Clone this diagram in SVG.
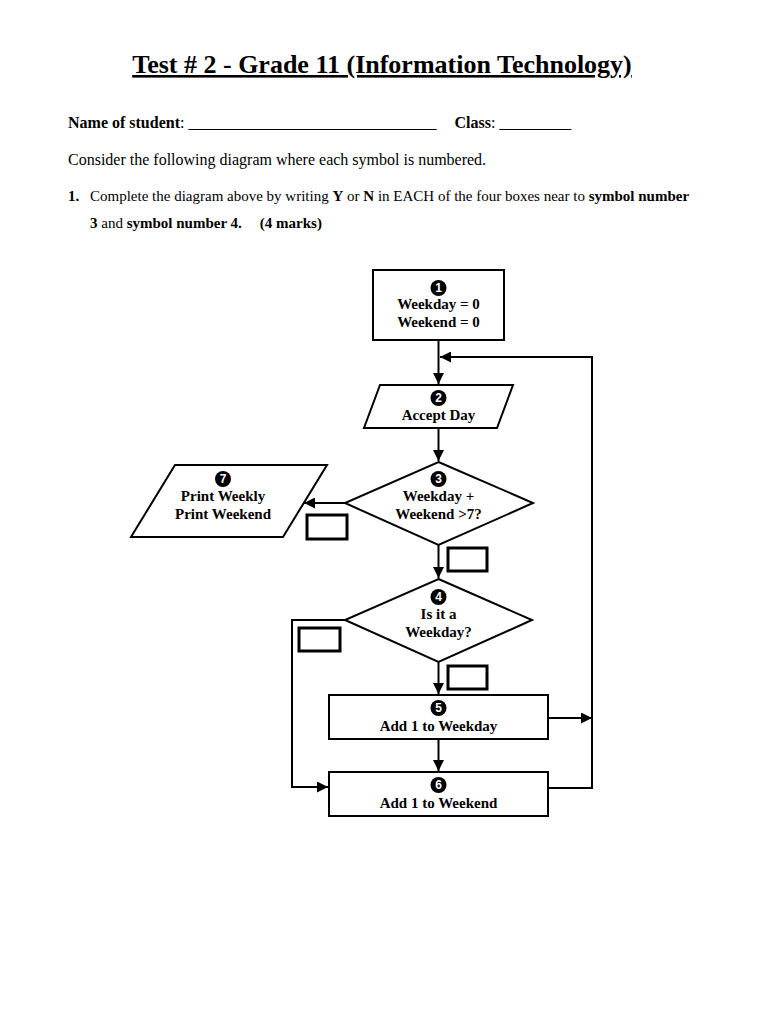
<svg xmlns="http://www.w3.org/2000/svg" width="768" height="1024" viewBox="0 0 768 1024">
<style>
.s{fill:#fff;stroke:#000;stroke-width:2}
.c{fill:none;stroke:#000;stroke-width:2}
.t{font-family:"Liberation Serif",serif;font-weight:bold;font-size:15px;text-anchor:middle}
.n{font-family:"Liberation Sans",sans-serif;font-weight:bold;font-size:12px;fill:#fff;text-anchor:middle}
.p{font-family:"Liberation Serif",serif;font-size:15px}
.q{font-family:"Liberation Serif",serif;font-size:16px}
</style>
<defs>
<marker id="b" viewBox="0 0 10 10" refX="10" refY="5" markerWidth="16" markerHeight="11" orient="auto" markerUnits="userSpaceOnUse"><path d="M0,0L10,5L0,10z"/></marker></defs>
<rect width="768" height="1024" fill="#fff"/>
<text x="382" y="73" font-family="Liberation Serif,serif" font-weight="bold" font-size="26" text-anchor="middle" text-decoration="underline">Test # 2 - Grade 11 (Information Technology)</text>
<text x="68" y="128" class="q"><tspan font-weight="bold">Name of student</tspan>: _______________________________ <tspan dx="14" font-weight="bold">Class</tspan>: _________</text>
<text x="68" y="165" class="q">Consider the following diagram where each symbol is numbered.</text>
<text x="68" y="201" class="p"><tspan font-weight="bold">1.</tspan><tspan x="90">Complete the diagram above by writing </tspan><tspan font-weight="bold">Y</tspan> or <tspan font-weight="bold">N</tspan> in EACH of the four boxes near to <tspan font-weight="bold">symbol number</tspan></text>
<text x="90" y="228" class="p"><tspan font-weight="bold">3</tspan> and <tspan font-weight="bold">symbol number 4.</tspan><tspan dx="18" font-weight="bold">(4 marks)</tspan></text>
<g id="connectors">
<path class="c" d="M438.5,340V384" marker-end="url(#b)"/>
<path class="c" d="M592,710V357H440" marker-end="url(#b)"/>
<path class="c" d="M438.5,428V461" marker-end="url(#b)"/>
<path class="c" d="M345,503H304" marker-end="url(#b)"/>
<path class="c" d="M438.5,545V578" marker-end="url(#b)"/>
<path class="c" d="M438.5,662V694" marker-end="url(#b)"/>
<path class="c" d="M438.5,739V771" marker-end="url(#b)"/>
<path class="c" d="M345,620H292V787H328" marker-end="url(#b)"/>
<path class="c" d="M548,718H592" marker-end="url(#b)"/>
<path class="c" d="M548,788H592V700"/>
</g>
<g id="n1"><rect class="s" x="373" y="270" width="131" height="70"/><circle cx="438.5" cy="288" r="8"/><text class="n" x="438.5" y="292">1</text><text class="t" x="438.5" y="309">Weekday = 0</text><text class="t" x="438.5" y="327">Weekend = 0</text></g>
<g id="n2"><path class="s" d="M380,385H513L497,428H364Z"/><circle cx="438.5" cy="398" r="8"/><text class="n" x="438.5" y="402">2</text><text class="t" x="438.5" y="420">Accept Day</text></g>
<g id="n3"><path class="s" d="M438.5,462L533,503L438.5,545L345,503Z"/><circle cx="438.5" cy="479" r="8"/><text class="n" x="438.5" y="483">3</text><text class="t" x="438.5" y="501">Weekday +</text><text class="t" x="438.5" y="519">Weekend &gt;7?</text></g>
<g id="n7"><path class="s" d="M175,465H327L283,537H131Z"/><circle cx="223" cy="479" r="8"/><text class="n" x="223" y="483">7</text><text class="t" x="223" y="501">Print Weekly</text><text class="t" x="223" y="519">Print Weekend</text></g>
<g id="n4"><path class="s" d="M438.5,579L532,620L438.5,662L345,620Z"/><circle cx="438.5" cy="597" r="8"/><text class="n" x="438.5" y="601">4</text><text class="t" x="438.5" y="619">Is it a</text><text class="t" x="438.5" y="637">Weekday?</text></g>
<g id="n5"><rect class="s" x="329" y="695" width="219" height="44"/><circle cx="438.5" cy="708" r="8"/><text class="n" x="438.5" y="712">5</text><text class="t" x="438.5" y="731">Add 1 to Weekday</text></g>
<g id="n6"><rect class="s" x="329" y="772" width="219" height="44"/><circle cx="438.5" cy="785" r="8"/><text class="n" x="438.5" y="789">6</text><text class="t" x="438.5" y="808">Add 1 to Weekend</text></g>
<g id="boxes" fill="#fff" stroke="#000" stroke-width="3">
<rect x="307" y="515" width="40" height="24"/><rect x="448" y="548" width="39" height="23"/><rect x="299" y="628" width="41" height="23"/><rect x="448" y="666" width="39" height="23"/>
</g>
</svg>
